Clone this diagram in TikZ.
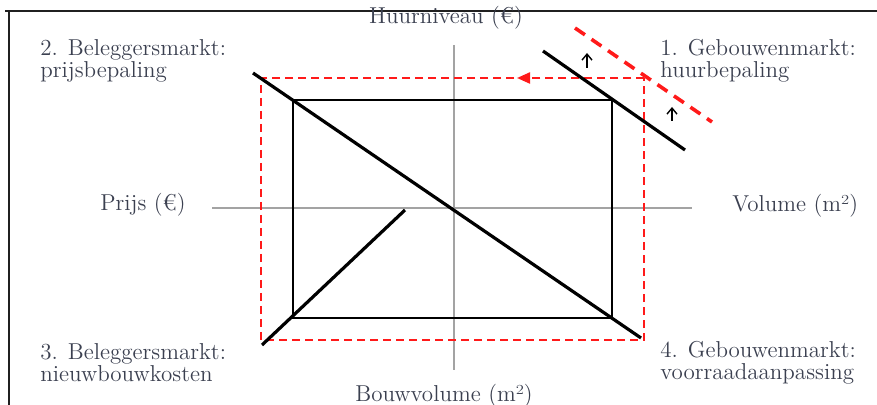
\documentclass[tikz,border=0pt]{standalone}
\usetikzlibrary{arrows.meta, positioning}
\definecolor{Ink}{HTML}{3B4050}
\definecolor{Frame}{HTML}{202020}
\definecolor{Axis}{HTML}{A3A3A3}
\definecolor{Shift}{HTML}{FF1A1A}

\begin{document}
\begin{tikzpicture}[
        x=0.5pt, y=-0.5pt,
        lbl/.style={font=\fontsize{11.5}{11}\selectfont, text=Ink, align=left, inner sep=0pt},
        axisline/.style={draw=Axis, line width=0.75pt},
        curve/.style={draw=black, line width=1.6pt},
        box/.style={draw=black, line width=1pt},
        shiftbox/.style={draw=Shift, line width=1.1pt, dash pattern=on 4pt off 2.5pt},
        shiftline/.style={draw=Shift, line width=1.8pt, dash pattern=on 6pt off 4pt},
        uparrow/.style={-{Straight Barb[length=3pt, width=5pt]}, line width=0.7pt}
    ]
    \useasboundingbox (0,0) rectangle (877,405);
    \draw[Frame, line width=0.9pt] (5,11) -- (877,11);
    \draw[Frame, line width=0.9pt] (9,11) -- (9,405);

    % quadrant labels
    \node[lbl, anchor=west] (q2) at (40,61) {2. Beleggersmarkt:\\prijsbepaling};
    \node[lbl, anchor=west] (q1) at (660,61) {1. Gebouwenmarkt:\\huurbepaling};
    \node[lbl, anchor=west] (q3) at (40,363) {3. Beleggersmarkt:\\nieuwbouwkosten};
    \node[lbl, anchor=west] (q4) at (660,363) {4. Gebouwenmarkt:\\voorraadaanpassing};

    % axis labels
    \node[lbl] (huur) at (446,18) {Huurniveau (€)};
    \node[lbl] (bouw) at (444,396) {Bouwvolume (m²)};
    \node[lbl] (prijs) at (143,205) {Prijs (€)};
    \node[lbl, anchor=west] (volume) at (732,206) {Volume (m²)};

    % axes
    \draw[axisline] (212,208) -- (692,208);
    \draw[axisline] (454,45) -- (454,370);

    % corners
    \coordinate (a) at (293,100);
    \coordinate (b) at (612,100);
    \coordinate (c) at (612,318);
    \coordinate (d) at (293,318);
    \coordinate (ra) at (644,78);

    % red shifted situation
    \draw[shiftbox] (ra) -- (261,78) -- (261,340) -- (644,340) -- cycle;
    \draw[shiftbox, -{Triangle[length=6.5pt, width=5.5pt]}] (ra) -- (517,78);
    \draw[shiftline] (575,28) -- (712,122);

    % equilibrium
    \draw[box] (a) -- (b) -- (c) -- (d) -- cycle;
    \draw[curve] (253,73) -- (641,338);
    \draw[curve] (262,345) -- (405,210);
    \draw[curve] (543,51) -- (685,150);

    % shift arrows
    \draw[uparrow] (587,68) -- (587,53);
    \draw[uparrow] (672,121) -- (672,107);
\end{tikzpicture}
\end{document}
